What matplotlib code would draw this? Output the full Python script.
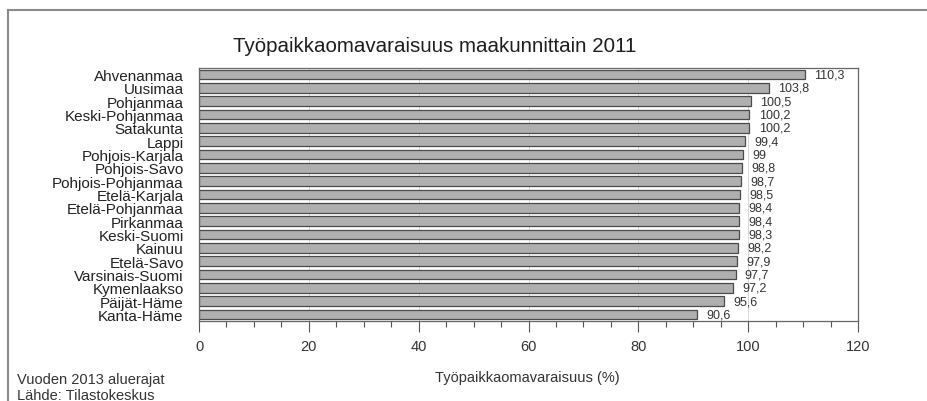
import matplotlib.pyplot as plt
from matplotlib.ticker import MultipleLocator
from matplotlib.lines import Line2D

# Data
regions = ['Ahvenanmaa', 'Uusimaa', 'Pohjanmaa', 'Keski-Pohjanmaa', 'Satakunta',
           'Lappi', 'Pohjois-Karjala', 'Pohjois-Savo', 'Pohjois-Pohjanmaa',
           'Etelä-Karjala', 'Etelä-Pohjanmaa', 'Pirkanmaa', 'Keski-Suomi',
           'Kainuu', 'Etelä-Savo', 'Varsinais-Suomi', 'Kymenlaakso',
           'Päijät-Häme', 'Kanta-Häme']
values = [110.3, 103.8, 100.5, 100.2, 100.2, 99.4, 99.0, 98.8, 98.7, 98.5,
          98.4, 98.4, 98.3, 98.2, 97.9, 97.7, 97.2, 95.6, 90.6]
value_labels = ['110,3', '103,8', '100,5', '100,2', '100,2', '99,4', '99', '98,8',
                '98,7', '98,5', '98,4', '98,4', '98,3', '98,2', '97,9', '97,7',
                '97,2', '95,6', '90,6']

plt.rcParams['font.family'] = ['Liberation Sans', 'DejaVu Sans']

fig = plt.figure(figsize=(9.27, 4.02), dpi=100)
ax = fig.add_axes([199 / 927, 1 - 322 / 402, 659 / 927, 253 / 402])

pos = list(range(len(regions)))
ax.barh(pos, values, height=0.72, color='#afafaf', edgecolor='#4a4a4a',
        linewidth=0.9, zorder=2)
for p, v, lab in zip(pos, values, value_labels):
    ax.text(v + 1.7, p, lab, va='center', ha='left', fontsize=9,
            color='#333333', zorder=3)

ax.set_xlim(0, 120)
ax.set_ylim(len(regions) - 0.5, -0.5)
ax.set_yticks(pos)
ax.set_yticklabels(regions, fontsize=11, color='#222222')
ax.tick_params(axis='y', length=0, pad=11)
ax.xaxis.set_major_locator(MultipleLocator(20))
ax.xaxis.set_minor_locator(MultipleLocator(5))
ax.tick_params(axis='x', which='major', length=8, width=0.8, color='#555555',
               labelsize=10.5, pad=5, labelcolor='#333333')
ax.tick_params(axis='x', which='minor', length=4, width=0.8, color='#555555')
ax.grid(axis='x', which='major', color='#d0d0d0', linewidth=0.6, zorder=0)
ax.set_axisbelow(True)
for s in ax.spines.values():
    s.set_color('#666666')
    s.set_linewidth(0.9)

fig.text(435 / 927, 1 - 47 / 402, 'Työpaikkaomavaraisuus maakunnittain 2011',
         ha='center', va='center', fontsize=14.8, color='#1e1e1e')
fig.text(527 / 927, 1 - 378 / 402, 'Työpaikkaomavaraisuus (%)', ha='center',
         va='center', fontsize=10.5, color='#333333')
fig.text(17 / 927, 1 - 380 / 402, 'Vuoden 2013 aluerajat', ha='left',
         va='center', fontsize=10.5, color='#333333')
fig.text(17 / 927, 1 - 396 / 402, 'Lähde: Tilastokeskus', ha='left',
         va='center', fontsize=10.5, color='#333333')

# outer frame (top and left edges)
fy = 1 - 11 / 402
fx = 8 / 927
fig.add_artist(Line2D([fx, 1], [fy, fy], transform=fig.transFigure,
                      color='#8a8a8a', linewidth=1.5))
fig.add_artist(Line2D([fx, fx], [0, fy], transform=fig.transFigure,
                      color='#8a8a8a', linewidth=1.5))

fig.savefig('out.png', dpi=100)
